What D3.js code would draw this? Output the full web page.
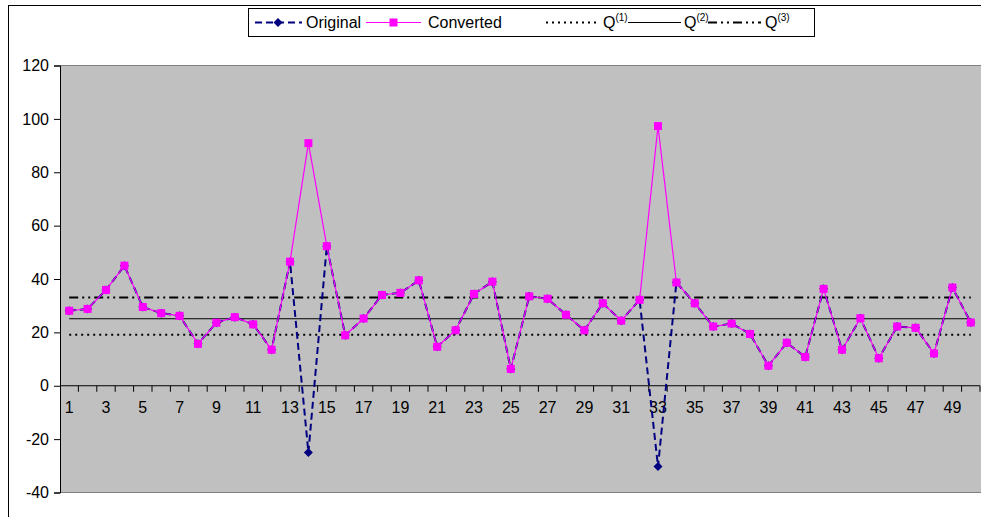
<!DOCTYPE html>
<html><head><meta charset="utf-8">
<script src="https://cdn.jsdelivr.net/npm/d3@7"></script>
<style>body{margin:0;background:#fff;}svg{display:block;font-family:"Liberation Sans",Arial,sans-serif;}</style>
</head><body>
<svg id="c" width="981" height="517"></svg>
<script>
const categories = d3.range(1, 51);
const original = [28.1,28.8,35.9,45,29.5,27.2,26.2,15.7,23.6,25.7,23,13.5,46.5,-25,52.3,18.9,25.2,34,34.8,39.5,14.6,20.8,34.4,39,6.3,33.5,32.6,26.6,20.8,30.9,24.4,32.2,-30.3,38.7,30.9,22.2,23.3,19.4,7.5,16.1,10.8,36.3,13.5,25.3,10.3,22.2,21.7,12.1,36.8,23.7];
const converted = [28.1,28.8,35.9,45,29.5,27.2,26.2,15.7,23.6,25.7,23,13.5,46.5,90.9,52.3,18.9,25.2,34,34.8,39.5,14.6,20.8,34.4,39,6.3,33.5,32.6,26.6,20.8,30.9,24.4,32.2,97.3,38.7,30.9,22.2,23.3,19.4,7.5,16.1,10.8,36.3,13.5,25.3,10.3,22.2,21.7,12.1,36.8,23.7];
const quartiles = {q1: 19.1, q2: 25.1, q3: 33.1};
const yTicks = [-40,-20,0,20,40,60,80,100,120];
const xLabels = categories.filter(d => d % 2 === 1);

const FS = "16px";
const svg = d3.select("#c");
const L = 60, R = 980, T = 65.5, B = 492.5;

// outer frame
svg.append("rect").attr("x",8.5).attr("y",5.5).attr("width",990).attr("height",530)
  .attr("fill","#fff").attr("stroke","#000").attr("stroke-width",1);

const x = d3.scaleBand().domain(categories).range([L, R]).paddingInner(0).paddingOuter(0);
const y = d3.scaleLinear().domain([-40, 120]).range([B, T]);
const cx = d => x(d) + x.bandwidth()/2;

// plot area
svg.append("rect").attr("x",L).attr("y",T).attr("width",981-L).attr("height",B-T).attr("fill","#C0C0C0");
svg.append("line").attr("x1",L).attr("x2",981).attr("y1",T).attr("y2",T).attr("stroke","#808080").attr("stroke-width",1);
svg.append("line").attr("x1",L).attr("x2",981).attr("y1",B).attr("y2",B).attr("stroke","#808080").attr("stroke-width",1);

// y axis
const yAxis = d3.axisLeft(y).tickValues(yTicks).tickSize(6).tickPadding(5).tickFormat(d => String(d));
const gy = svg.append("g").attr("transform",`translate(${L},0)`).call(yAxis);
gy.select(".domain").attr("stroke","#000");
gy.selectAll("text").attr("font-size",FS).attr("fill","#000").attr("font-family","Liberation Sans, Arial, sans-serif");

// x axis at zero
const xAxis = d3.axisBottom(x).tickValues(xLabels).tickSize(0).tickPadding(16).tickFormat(d => String(d));
const gx = svg.append("g").attr("transform",`translate(0,${y(0)})`).call(xAxis);
gx.select(".domain").remove();
gx.selectAll("text").attr("font-size",FS).attr("fill","#000").attr("font-family","Liberation Sans, Arial, sans-serif");
svg.append("line").attr("x1",L).attr("x2",R).attr("y1",y(0)).attr("y2",y(0)).attr("stroke","#000");
svg.selectAll(".xt").data(categories).enter().append("line")
  .attr("x1", d => x(d)+x.bandwidth()).attr("x2", d => x(d)+x.bandwidth())
  .attr("y1", y(0)).attr("y2", y(0)+6).attr("stroke","#000");

// quartile lines
const x0 = cx(1), x1 = cx(50);
svg.append("line").attr("x1",x0).attr("x2",x1).attr("y1",y(quartiles.q1)).attr("y2",y(quartiles.q1))
  .attr("stroke","#000").attr("stroke-width",2).attr("stroke-dasharray","2,4");
svg.append("line").attr("x1",x0).attr("x2",x1).attr("y1",y(quartiles.q2)).attr("y2",y(quartiles.q2))
  .attr("stroke","#000").attr("stroke-width",1);
svg.append("line").attr("x1",x0).attr("x2",x1).attr("y1",y(quartiles.q3)).attr("y2",y(quartiles.q3))
  .attr("stroke","#000").attr("stroke-width",2).attr("stroke-dasharray","9,4,2,4,2,4");

// original series
const line = d3.line().x((d,i) => cx(categories[i])).y(d => y(d));
svg.append("path").datum(original).attr("d", line).attr("fill","none")
  .attr("stroke","#000080").attr("stroke-width",2).attr("stroke-dasharray","7,4");
const diamond = "M0,-4.5L4.5,0L0,4.5L-4.5,0Z";
svg.selectAll(".od").data(original).enter().append("path")
  .attr("d", diamond).attr("transform",(d,i) => `translate(${cx(categories[i])},${y(d)})`).attr("fill","#000080");

// converted series
svg.append("path").datum(converted).attr("d", line).attr("fill","none")
  .attr("stroke","#FF00FF").attr("stroke-width",1.2);
svg.selectAll(".cs").data(converted).enter().append("rect")
  .attr("x",(d,i) => cx(categories[i])-4).attr("y", d => y(d)-4).attr("width",8).attr("height",8).attr("fill","#FF00FF");

// legend
const lg = svg.append("g");
lg.append("rect").attr("x",248.5).attr("y",8.5).attr("width",566).attr("height",28).attr("fill","#fff").attr("stroke","#000");
const ly = 22.5;
lg.append("line").attr("x1",255).attr("x2",302).attr("y1",ly).attr("y2",ly).attr("stroke","#000080").attr("stroke-width",2).attr("stroke-dasharray","7,4");
lg.append("path").attr("d",diamond).attr("transform",`translate(278,${ly})`).attr("fill","#000080");
lg.append("text").attr("x",306).attr("y",ly+5.5).attr("font-size",FS).text("Original");
lg.append("line").attr("x1",366).attr("x2",421).attr("y1",ly).attr("y2",ly).attr("stroke","#FF00FF").attr("stroke-width",1.2);
lg.append("rect").attr("x",389.5).attr("y",ly-4).attr("width",8).attr("height",8).attr("fill","#FF00FF");
lg.append("text").attr("x",428).attr("y",ly+5.5).attr("font-size",FS).text("Converted");
lg.append("line").attr("x1",546).attr("x2",600).attr("y1",ly).attr("y2",ly).attr("stroke","#000").attr("stroke-width",2).attr("stroke-dasharray","2,4");
lg.append("line").attr("x1",628).attr("x2",681).attr("y1",ly).attr("y2",ly).attr("stroke","#000").attr("stroke-width",1);
lg.append("line").attr("x1",708).attr("x2",761).attr("y1",ly).attr("y2",ly).attr("stroke","#000").attr("stroke-width",2).attr("stroke-dasharray","9,4,2,4,2,4");
const qLab = (xp, n) => {
  const t = lg.append("text").attr("x",xp).attr("y",ly+5.5).attr("font-size",FS);
  t.append("tspan").text("Q");
  t.append("tspan").attr("dy",-7).attr("font-size","10px").text(`(${n})`);
};
qLab(603, 1); qLab(684, 2); qLab(765, 3);
</script>
</body></html>
